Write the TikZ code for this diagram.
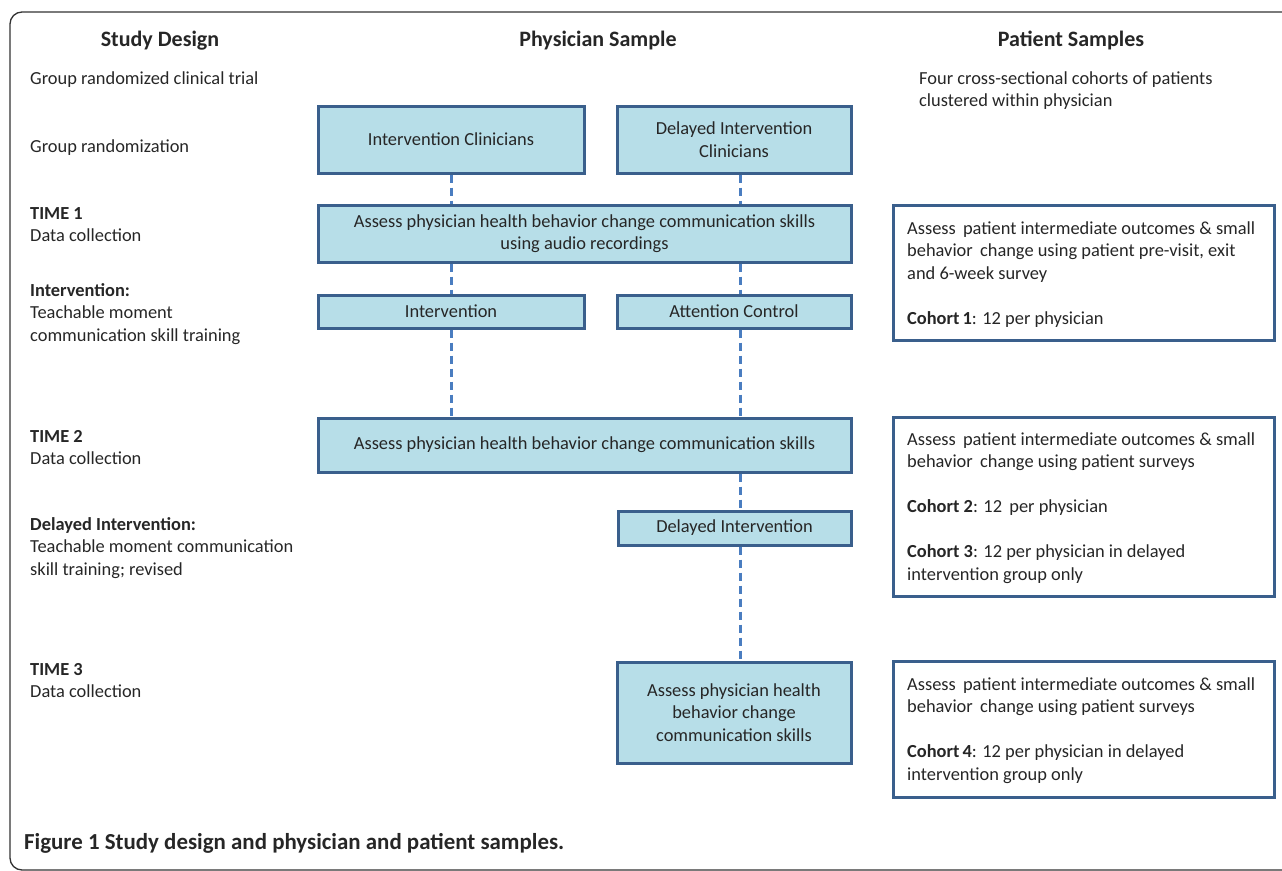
\documentclass[tikz,border=0pt]{standalone}
\usepackage{fontspec}
\setmainfont{Carlito}
\begin{document}
\begin{tikzpicture}[x=1pt,y=-1pt,
  every node/.style={font=\fontsize{18.4}{22.5}\selectfont, text=black!85, inner sep=0pt},
  pbox/.style={draw=boxline, line width=3pt, fill=boxfill, align=center},
  lab/.style={anchor=base west, align=left},
  hdr/.style={font=\fontsize{22}{26}\selectfont\bfseries, anchor=base},
  link/.style={draw=linkblue, line width=3pt, dash pattern=on 8pt off 5pt}
]
\definecolor{boxline}{HTML}{3A5F8C}
\definecolor{boxfill}{HTML}{B7DEE8}
\definecolor{linkblue}{HTML}{4A7DC0}
\useasboundingbox (0,0) rectangle (1282,870);
\draw[line width=1.3pt, draw=black!80, rounded corners=12pt] (10,12) rectangle (1310,870);

% headers
\node[hdr] (h1) at (160,46) {Study Design};
\node[hdr] (h2) at (598,46) {Physician Sample};
\node[hdr] (h3) at (1071,46) {Patient Samples};

% left column (anchor = baseline of last line)
\node[lab] (l1) at (30,84) {Group randomized clinical trial};
\node[lab] (l2) at (30,152) {Group randomization};
\node[lab] (l3) at (30,241.5) {\textbf{TIME 1}\\Data collection};
\node[lab] (l4) at (30,341) {\textbf{Intervention:}\\Teachable moment\\communication skill training};
\node[lab] (l5) at (30,464.5) {\textbf{TIME 2}\\Data collection};
\node[lab] (l6) at (30,575) {\textbf{Delayed Intervention:}\\Teachable moment communication\\skill training; revised};
\node[lab] (l7) at (30,697.5) {\textbf{TIME 3}\\Data collection};

% right header text
\node[lab] (r1) at (919,106.5) {Four cross-sectional cohorts of patients\\clustered within physician};

% physician boxes
\node[pbox, minimum width=266pt, minimum height=67pt] (ic) at (451,139.5) {Intervention Clinicians};
\node[pbox, minimum width=234pt, minimum height=67pt] (dic) at (734,139.5) {Delayed Intervention\\Clinicians};
\node[pbox, minimum width=533pt, minimum height=57pt] (a1) at (584.5,233.5) {Assess physician health behavior change communication skills\\using audio recordings};
\node[pbox, minimum width=266pt, minimum height=33pt] (iv) at (451,311.5) {Intervention};
\node[pbox, minimum width=234pt, minimum height=33pt] (ac) at (734,311.5) {Attention Control};
\node[pbox, minimum width=533pt, minimum height=54pt] (a2) at (584.5,445) {Assess physician health behavior change communication skills};
\node[pbox, minimum width=233pt, minimum height=34pt] (di) at (734.5,528) {Delayed Intervention};
\node[pbox, minimum width=234pt, minimum height=101pt] (a3) at (734,712.5) {Assess physician health\\behavior change\\communication skills};

% patient boxes
\node[draw=boxline, line width=3pt, fill=white, minimum width=381pt, minimum height=135pt] (p1) at (1083.5,272.5) {};
\node[lab] (p1t) at (907,324) {Assess\, patient intermediate outcomes \& small\\behavior\, change using patient pre-visit, exit\\and 6-week survey\\[22.5pt]\textbf{Cohort\,1}: 12 per physician};
\node[draw=boxline, line width=3pt, fill=white, minimum width=381pt, minimum height=179pt] (p2) at (1083.5,506.5) {};
\node[lab] (p2t) at (907,580) {Assess\, patient intermediate outcomes \& small\\behavior\, change using patient surveys\\[22.5pt]\textbf{Cohort 2}: 12\, per physician\\[22.5pt]\textbf{Cohort 3}: 12 per physician in delayed\\intervention group only};
\node[draw=boxline, line width=3pt, fill=white, minimum width=381pt, minimum height=136pt] (p3) at (1083.5,729) {};
\node[lab] (p3t) at (907,780) {Assess\, patient intermediate outcomes \& small\\behavior\, change using patient surveys\\[22.5pt]\textbf{Cohort\,4}: 12 per physician in delayed\\intervention group only};

% connectors
\draw[link] (ic.south) -- (ic.south |- a1.north);
\draw[link] (ic.south |- a1.south) -- (iv.north);
\draw[link] (iv.south) -- (iv.south |- a2.north);
\draw[link] ([xshift=6pt]dic.south) -- ([xshift=6pt]dic.south |- a1.north);
\draw[link] ([xshift=6pt]dic.south |- a1.south) -- ([xshift=6pt]ac.north);
\draw[link] ([xshift=6pt]ac.south) -- ([xshift=6pt]ac.south |- a2.north);
\draw[link] ([xshift=6pt]ac.south |- a2.south) -- ([xshift=5.5pt]di.north);
\draw[link] ([xshift=5.5pt]di.south) -- ([xshift=6pt]a3.north);

% caption
\node[anchor=base west, font=\fontsize{22.9}{27}\selectfont\bfseries] (cap) at (24,849) {Figure 1 Study design and physician and patient samples.};
\end{tikzpicture}
\end{document}
